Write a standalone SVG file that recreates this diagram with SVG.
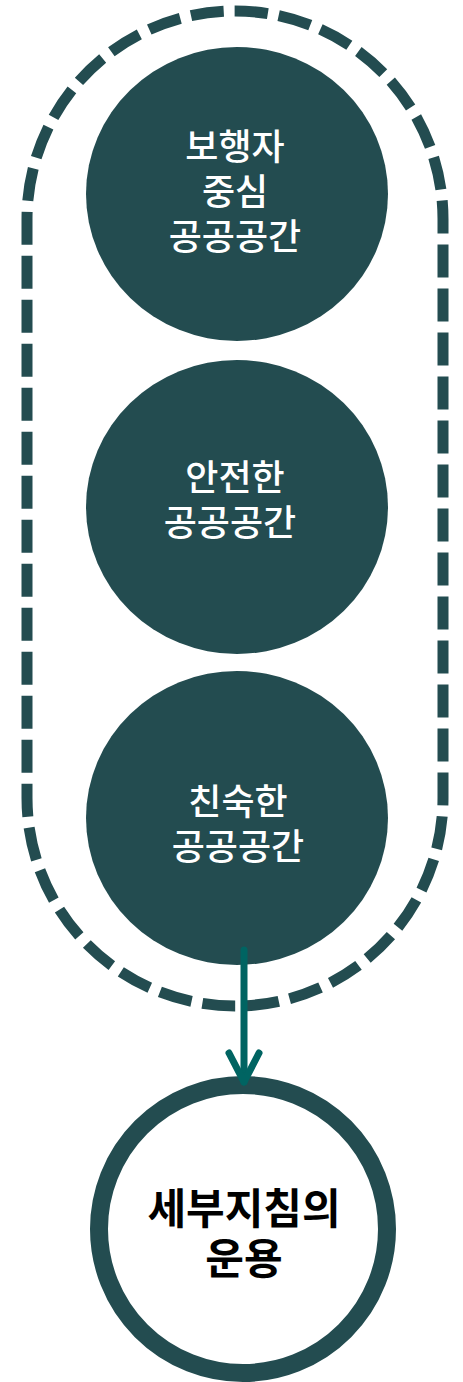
<svg xmlns="http://www.w3.org/2000/svg" width="463" height="1382" viewBox="0 0 463 1382">
<style>
.node{fill:#234C50;}
.lbl{font-family:"Noto Sans CJK KR","Noto Sans",sans-serif;font-size:36px;font-weight:500;fill:#ffffff;text-anchor:middle;}
.lbl2{font-family:"Noto Sans CJK KR","Noto Sans",sans-serif;font-size:42px;font-weight:bold;fill:#000000;text-anchor:middle;}
.group{fill:none;stroke:#234C50;stroke-width:11;stroke-dasharray:33 11;}
.conn{fill:none;stroke:#006462;stroke-width:7;stroke-linecap:round;stroke-linejoin:round;}
</style>
<rect width="463" height="1382" fill="#ffffff"/>
<g id="group-boundary">
<rect class="group" x="27" y="11" width="416" height="995" rx="208" ry="208"/>
</g>
<g id="node-1">
<ellipse class="node" cx="237" cy="194" rx="151" ry="147"/>
<text class="lbl" x="235" y="160">보행자</text>
<text class="lbl" x="235" y="205">중심</text>
<text class="lbl" x="235" y="250">공공공간</text>
</g>
<g id="node-2">
<ellipse class="node" cx="237" cy="507" rx="151" ry="147"/>
<text class="lbl" x="235" y="491">안전한</text>
<text class="lbl" x="230" y="536">공공공간</text>
</g>
<g id="node-3">
<ellipse class="node" cx="237" cy="818" rx="151" ry="147"/>
<text class="lbl" x="238" y="815">친숙한</text>
<text class="lbl" x="238" y="860">공공공간</text>
</g>
<g id="node-4">
<circle cx="243" cy="1229" r="144" fill="#ffffff" stroke="#234C50" stroke-width="18"/>
<text class="lbl2" x="244" y="1224">세부지침의</text>
<text class="lbl2" x="244" y="1274">운용</text>
</g>
<g id="connectors">
<line class="conn" x1="244" y1="950" x2="244" y2="1082" stroke-linecap="butt"/>
<polyline class="conn" points="229,1053 244,1082 259,1053"/>
</g>
</svg>
